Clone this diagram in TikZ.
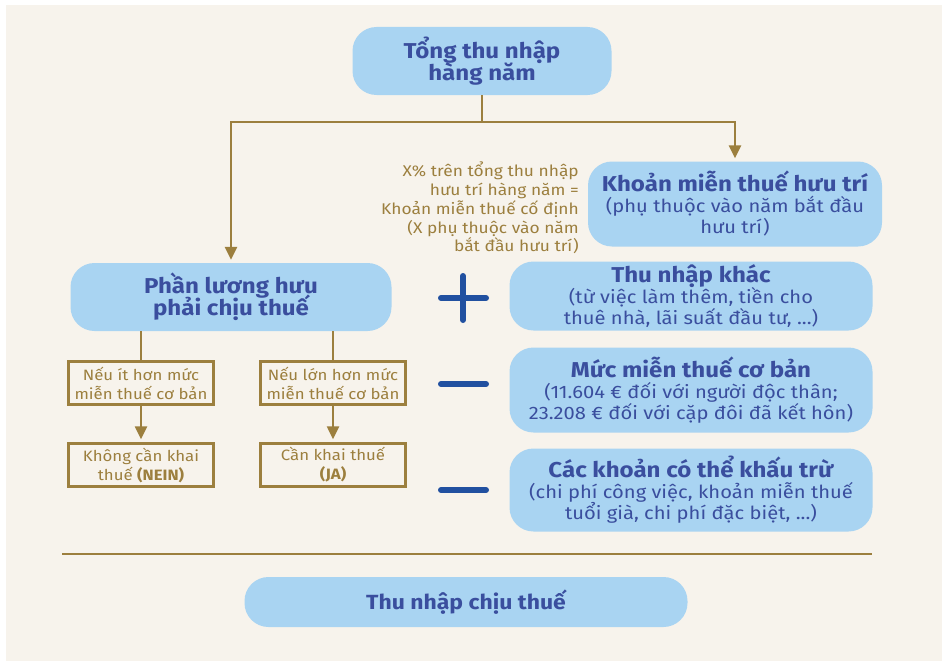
\documentclass[tikz,border=0pt]{standalone}
\usepackage{fontspec}
\setmainfont{Fira Sans}[FakeStretch=1.12]
\usetikzlibrary{arrows.meta}
\definecolor{cream}{HTML}{F7F3EC}
\definecolor{skyfill}{HTML}{A9D4F2}
\definecolor{navytext}{HTML}{3A4E9E}
\definecolor{signblue}{HTML}{2150A0}
\definecolor{gold}{HTML}{9C7F3E}
\setlength{\lineskiplimit}{-100pt}
\tikzset{
	bluebox/.style={ fill=skyfill, rounded corners=24pt, text=navytext, align=center, inner sep=0pt },
	titlefont/.style={ font=\bfseries\fontsize{21.5}{21.5}\selectfont },
	subfont/.style={ font=\fontsize{18}{21}\selectfont },
	goldbox/.style={ draw=gold, line width=2.5pt, text=gold, align=center, font=\fontsize{15}{19}\selectfont, minimum width=145pt, minimum height=43pt, inner sep=0pt },
	goldline/.style={ draw=gold, line width=2.5pt },
	goldarrow/.style={ goldline, -{Triangle[width=12pt,length=13pt]}, shorten >=3pt },
	sign/.style={ draw=signblue, line width=6pt, line cap=round },
}
\newcommand{\boxtitle}[1]{{\bfseries\fontsize{21.5}{21}\selectfont #1}}
\begin{document}
\begin{tikzpicture}[x=1pt, y=-1pt]
	% Canvas
	\useasboundingbox (0,0) rectangle (942,661);
	\fill[ white ] (0,0) rectangle (942,661);
	\fill[ cream ] (6,5) rectangle (942,661);
	% Total income
	\node[ bluebox, titlefont, minimum width=259pt, minimum height=68pt ] (total) at (482,61) {Tổng thu nhập\\hàng năm};
	% Pension allowance
	\node[ bluebox, subfont, minimum width=294pt, minimum height=85pt ] (allowance) at (735,204)
		{\boxtitle{Khoản miễn thuế hưu trí}\\(phụ thuộc vào năm bắt đầu\\hưu trí)};
	% Note on the allowance
	\node[ anchor=east, align=right, text=gold, inner sep=0pt, font=\fontsize{15.5}{18.8}\selectfont ] (note) at (579,208)
		{X\% trên tổng thu nhập\\hưu trí hàng năm =\\Khoản miễn thuế cố định\\(X phụ thuộc vào năm\\bắt đầu hưu trí)};
	% Taxable pension
	\node[ bluebox, titlefont, minimum width=321pt, minimum height=68pt ] (taxable) at (231,297) {Phần lương hưu\\phải chịu thuế};
	% Split from the total
	\coordinate (split) at (482,122);
	\draw[ goldline ] (total.south) -- (split);
	\draw[ goldarrow ] (split) -| (taxable.north);
	\draw[ goldarrow ] (split) -| (allowance.north);
	% Below the basic allowance
	\node[ goldbox ] (less) at (141,383) {Nếu ít hơn mức\\miễn thuế cơ bản};
	\node[ goldbox ] (nein) at (141,465) {Không cần khai\\thuế \textbf{(NEIN)}};
	\draw[ goldline ] (taxable.south -| less.north) -- (less.north);
	\draw[ goldarrow ] (less.south) -- (nein.north);
	% Above the basic allowance
	\node[ goldbox ] (more) at (333,383) {Nếu lớn hơn mức\\miễn thuế cơ bản};
	\node[ goldbox ] (ja) at (333,465) {Cần khai thuế\\\textbf{(JA)}};
	\draw[ goldline ] (taxable.south -| more.north) -- (more.north);
	\draw[ goldarrow ] (more.south) -- (ja.north);
	% Other income
	\node[ bluebox, subfont, minimum width=363pt, minimum height=69pt ] (other) at (691,296)
		{\boxtitle{Thu nhập khác}\\(từ việc làm thêm, tiền cho\\thuê nhà, lãi suất đầu tư, ...)};
	% Basic allowance
	\node[ bluebox, subfont, minimum width=363pt, minimum height=85pt ] (basic) at (691,390)
		{\boxtitle{Mức miễn thuế cơ bản}\\(11.604 € đối với người độc thân;\\23.208 € đối với cặp đôi đã kết hôn)};
	% Deductions
	\node[ bluebox, subfont, minimum width=363pt, minimum height=83pt ] (deduct) at (691,490)
		{\boxtitle{Các khoản có thể khấu trừ}\\(chi phí công việc, khoản miễn thuế\\tuổi già, chi phí đặc biệt, ...)};
	% Plus and minus signs
	\draw[ sign ] (441,298) -- (486,298);
	\draw[ sign ] (463,276) -- (463,320);
	\draw[ sign ] (441,384) -- (486,384);
	\draw[ sign ] (441,490) -- (486,490);
	% Result line
	\draw[ goldline ] (62,554) -- (872,554);
	% Taxable income
	\node[ bluebox, font=\bfseries\fontsize{20.5}{21}\selectfont, minimum width=443pt, minimum height=50pt ] (result) at (466,602) {Thu nhập chịu thuế};
\end{tikzpicture}
\end{document}
